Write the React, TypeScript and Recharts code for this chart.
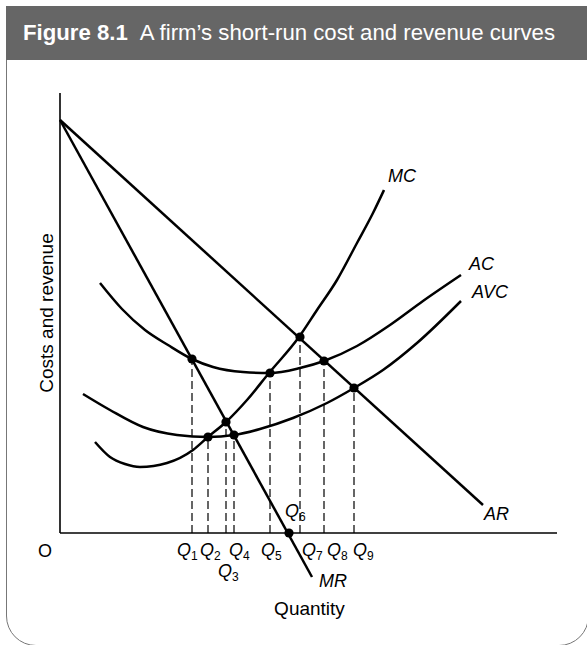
import React from 'react'
import { ComposedChart, Line, Scatter, XAxis, YAxis, ReferenceLine, Label } from 'recharts'

// chart units: quantity along x, costs/revenue along y, origin at O
const qNames = ['1', '2', '3', '4', '5', '6', '7', '8', '9']
const qValues = [132, 148, 166, 174, 210, 229, 240, 264, 294]
const qHeights = [174, 96, 111, 98, 160, 0, 196, 172, 145]

const arPoints = [
  { q: 0, c: 413 },
  { q: 423, c: 28 },
]
const mrPoints = [
  { q: 0, c: 413 },
  { q: 252, c: -44 },
]
const acPoints = [
  { q: 40, c: 250 },
  { q: 62, c: 224 },
  { q: 85, c: 203 },
  { q: 108, c: 188 },
  { q: 132, c: 174 },
  { q: 153, c: 166 },
  { q: 183, c: 161 },
  { q: 210, c: 160 },
  { q: 240, c: 165 },
  { q: 264, c: 172 },
  { q: 297, c: 187 },
  { q: 330, c: 208 },
  { q: 363, c: 232 },
  { q: 401, c: 258 },
]
const avcPoints = [
  { q: 23, c: 139 },
  { q: 50, c: 123 },
  { q: 83, c: 106 },
  { q: 117, c: 98 },
  { q: 148, c: 96 },
  { q: 174, c: 98 },
  { q: 200, c: 104 },
  { q: 233, c: 115 },
  { q: 267, c: 130 },
  { q: 294, c: 145 },
  { q: 323, c: 163 },
  { q: 357, c: 190 },
  { q: 401, c: 232 },
]
const mcPoints = [
  { q: 35, c: 91 },
  { q: 50, c: 76 },
  { q: 65, c: 69 },
  { q: 80, c: 66 },
  { q: 107, c: 70 },
  { q: 133, c: 83 },
  { q: 148, c: 96 },
  { q: 166, c: 111 },
  { q: 187, c: 133 },
  { q: 209, c: 160 },
  { q: 239, c: 196 },
  { q: 257, c: 223 },
  { q: 277, c: 253 },
  { q: 297, c: 290 },
  { q: 313, c: 320 },
  { q: 324, c: 343 },
]

const FONT = "'Liberation Sans', Arial, sans-serif"

const dots = qValues.map((q, i) => ({ q, c: qHeights[i] }))

// where each tick label sits relative to its tick
const tickOffsets = [
  { dx: -22, dy: 24 },
  { dx: -15, dy: 23 },
  { dx: -8, dy: 23 },
  { dx: -8, dy: 44 },
  { dx: -5, dy: 23 },
  { dx: -9, dy: 23 },
  { dx: -4, dy: -16 },
  { dx: 2, dy: 23 },
  { dx: 3, dy: 23 },
  { dx: -1, dy: 23 },
]

const QTick = (props: any) => {
  const { x, y, index } = props
  const off = tickOffsets[index] || { dx: 0, dy: 20 }
  if (index === 0) {
    return (
      <text x={x + off.dx} y={y + off.dy} fontSize={18} fontFamily={FONT} fill="#000">
        O
      </text>
    )
  }
  return (
    <text x={x + off.dx} y={y + off.dy} fontSize={18} fontFamily={FONT} fill="#000">
      <tspan fontStyle="italic">Q</tspan>
      <tspan fontSize={12} dy={4}>
        {qNames[index - 1]}
      </tspan>
    </text>
  )
}

const curveLabel = (text: string, n: number, dx: number, dy: number) => (p: any) => {
  if (p.index !== n - 1) return null
  const x = p.x ?? p.viewBox?.x
  const y = p.y ?? p.viewBox?.y
  return (
    <text x={x + dx} y={y + dy} fontSize={18} fontStyle="italic" fontFamily={FONT} fill="#000">
      {text}
    </text>
  )
}

const yTitle = (p: any) => {
  const vb = p.viewBox
  const cx = vb.x + vb.width - 7
  const cy = vb.y + vb.height / 2
  return (
    <text
      x={cx}
      y={cy}
      textAnchor="middle"
      transform={`rotate(-90 ${cx} ${cy})`}
      fontSize={19}
      fontFamily={FONT}
      fill="#000"
    >
      Costs and revenue
    </text>
  )
}

const xTitle = (p: any) => {
  const vb = p.viewBox
  return (
    <text x={vb.x + vb.width / 2 + 1} y={vb.y + 82} textAnchor="middle" fontSize={19} fontFamily={FONT} fill="#000">
      Quantity
    </text>
  )
}

export default function App() {
  return (
    <div
      style={{
        position: 'fixed',
        left: 0,
        top: 0,
        width: 587,
        height: 645,
        overflow: 'hidden',
        background: '#fff',
        fontFamily: FONT,
      }}
    >
      <style>{'.recharts-wrapper [clip-path] { clip-path: none !important; }'}</style>
      <div
        style={{
          position: 'absolute',
          left: 6,
          top: 6,
          width: 583,
          height: 640,
          border: '1.5px solid #777',
          borderRadius: '0 0 30px 30px',
          boxSizing: 'border-box',
        }}
      />
      <div
        style={{
          position: 'absolute',
          left: 6,
          top: 6,
          width: 583,
          height: 54,
          background: '#666',
          color: '#fff',
          fontSize: 22.2,
          lineHeight: '54px',
          paddingLeft: 17,
          boxSizing: 'border-box',
          whiteSpace: 'nowrap',
        }}
      >
        <b>Figure 8.1</b>
        <span style={{ marginLeft: 12 }}>A firm’s short-run cost and revenue curves</span>
      </div>
      <div style={{ position: 'absolute', left: 0, top: 0 }}>
        <ComposedChart width={587} height={645} margin={{ top: 93, right: 30, bottom: 111, left: 59 }}>
          <XAxis
            type="number"
            dataKey="q"
            domain={[0, 497]}
            ticks={[0, ...qValues]}
            interval={0}
            tick={<QTick />}
            tickLine={false}
            tickSize={0}
            tickMargin={0}
            height={1}
            axisLine={{ stroke: '#000', strokeWidth: 1.6 }}
          >
            <Label content={xTitle} />
          </XAxis>
          <YAxis
            type="number"
            dataKey="c"
            domain={[0, 440]}
            allowDataOverflow
            tick={false}
            tickLine={false}
            width={1}
            axisLine={{ stroke: '#000', strokeWidth: 1.6 }}
          >
            <Label content={yTitle} />
          </YAxis>
          {qValues.map((q, i) =>
            qHeights[i] > 0 ? (
              <ReferenceLine
                key={q}
                segment={[
                  { x: q, y: 0 },
                  { x: q, y: qHeights[i] },
                ]}
                stroke="#333"
                strokeWidth={1.5}
                strokeDasharray="8 4"
              />
            ) : null
          )}
          <Line
            data={arPoints}
            dataKey="c"
            type="linear"
            stroke="#000"
            strokeWidth={2.5}
            dot={false}
            activeDot={false}
            isAnimationActive={false}
            label={curveLabel('AR', arPoints.length, 1, 15)}
          />
          <Line
            data={mrPoints}
            dataKey="c"
            type="linear"
            stroke="#000"
            strokeWidth={2.5}
            dot={false}
            activeDot={false}
            isAnimationActive={false}
            label={curveLabel('MR', mrPoints.length, 7, 10)}
          />
          <Line
            data={acPoints}
            dataKey="c"
            type="monotone"
            stroke="#000"
            strokeWidth={2.5}
            dot={false}
            activeDot={false}
            isAnimationActive={false}
            label={curveLabel('AC', acPoints.length, 8, -5)}
          />
          <Line
            data={avcPoints}
            dataKey="c"
            type="monotone"
            stroke="#000"
            strokeWidth={2.5}
            dot={false}
            activeDot={false}
            isAnimationActive={false}
            label={curveLabel('AVC', avcPoints.length, 11, -3)}
          />
          <Line
            data={mcPoints}
            dataKey="c"
            type="monotone"
            stroke="#000"
            strokeWidth={2.5}
            dot={false}
            activeDot={false}
            isAnimationActive={false}
            label={curveLabel('MC', mcPoints.length, 4, -8)}
          />
          <Scatter
            data={dots}
            dataKey="c"
            isAnimationActive={false}
            shape={(p: any) => <circle cx={p.cx} cy={p.cy} r={4.6} fill="#000" />}
          />
        </ComposedChart>
      </div>
    </div>
  )
}
